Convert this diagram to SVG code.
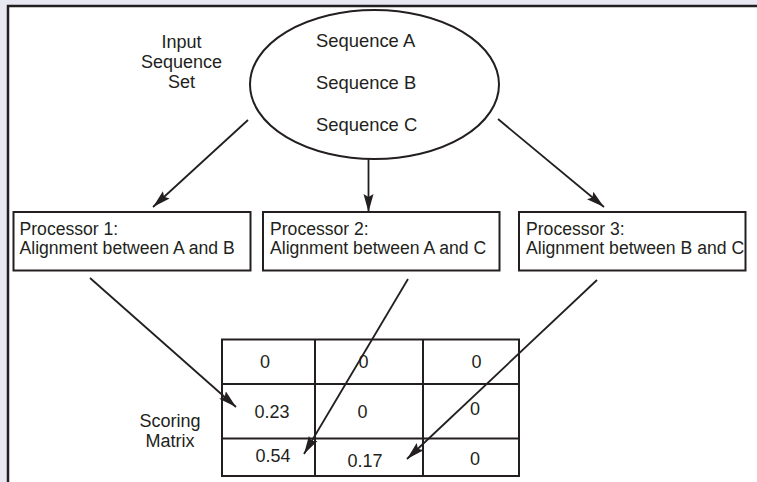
<svg xmlns="http://www.w3.org/2000/svg" width="757" height="482" viewBox="0 0 757 482">
<defs>
<style>
text{font-family:"Liberation Sans",Arial,sans-serif;fill:#231f20;font-size:18px}
.p{font-size:17.6px}
.c{text-anchor:middle}
.box{fill:#fff;stroke:#231f20;stroke-width:2}
.con{stroke:#231f20;stroke-width:1.8;fill:none;marker-end:url(#ah)}
</style>
<marker id="ah" markerUnits="userSpaceOnUse" markerWidth="19" markerHeight="11" refX="18" refY="5" orient="auto" viewBox="0 0 19 10">
<path d="M0,0 L18,5 L0,10 L3,5 Z" fill="#231f20"/>
</marker>
</defs>
<rect x="0" y="0" width="757" height="482" fill="#e8e8f2"/>
<rect x="8" y="6" width="760" height="490" fill="#fff" stroke="#231f20" stroke-width="2.5"/>
<g id="input-label">
<text class="c" x="181.5" y="48">Input</text>
<text class="c" x="181.5" y="68">Sequence</text>
<text class="c" x="181.5" y="88">Set</text>
</g>
<g id="sequences">
<ellipse class="box" cx="374.5" cy="84.5" rx="124.5" ry="74.5"/>
<text x="316" y="47" style="font-size:18.4px">Sequence A</text>
<text x="316" y="89" style="font-size:18.4px">Sequence B</text>
<text x="316" y="131" style="font-size:18.4px">Sequence C</text>
</g>
<g id="proc1">
<rect class="box" x="13.5" y="212" width="237" height="58.5"/>
<text class="p" x="19.5" y="235">Processor 1:</text>
<text class="p" x="19.5" y="254">Alignment between A and B</text>
</g>
<g id="proc2">
<rect class="box" x="263" y="212" width="236.5" height="58.5"/>
<text class="p" x="270" y="235">Processor 2:</text>
<text class="p" x="270" y="254">Alignment between A and C</text>
</g>
<g id="proc3">
<rect class="box" x="519" y="212" width="226.5" height="58.5"/>
<text class="p" x="526" y="235">Processor 3:</text>
<text class="p" x="526" y="254">Alignment between B and C</text>
</g>
<g id="matrix-label">
<text class="c" x="170" y="427">Scoring</text>
<text class="c" x="170" y="447">Matrix</text>
</g>
<g id="matrix">
<rect class="box" x="222" y="339.5" width="297" height="136.5"/>
<path d="M315,339.5 V476 M423,339.5 V476 M222,384 H519 M222,438.5 H519" stroke="#231f20" stroke-width="2" fill="none"/>
<text class="c" x="265" y="368">0</text>
<text class="c" x="363.5" y="368">0</text>
<text class="c" x="476.5" y="368">0</text>
<text class="c" x="272" y="418">0.23</text>
<text class="c" x="362.5" y="418">0</text>
<text class="c" x="475" y="415">0</text>
<text class="c" x="273" y="461.5">0.54</text>
<text class="c" x="365" y="466.5">0.17</text>
<text class="c" x="475" y="465">0</text>
</g>
<g id="connectors">
<path class="con" d="M248,120 L153,207"/>
<path class="con" d="M368.5,159 L368.5,212"/>
<path class="con" d="M498,119 L604,207"/>
<path class="con" d="M90,278 L236,407"/>
<path class="con" d="M408,279 L304,454"/>
<path class="con" d="M597,280 L407,459"/>
</g>
</svg>
